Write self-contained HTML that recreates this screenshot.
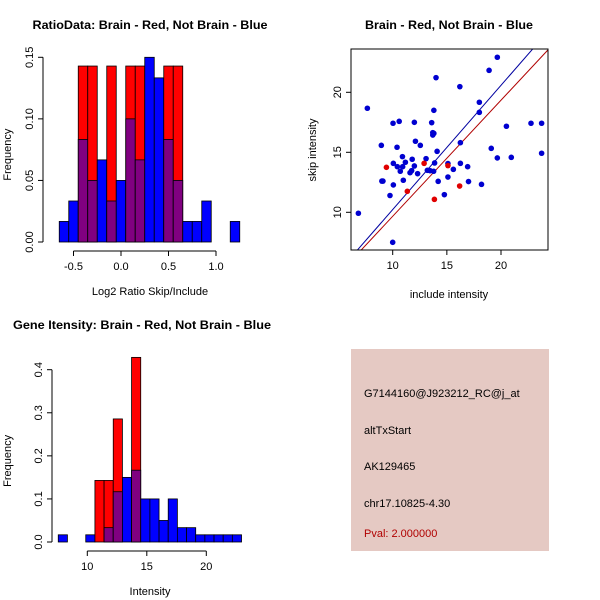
<!DOCTYPE html>
<html><head><meta charset="utf-8"><style>
html,body{margin:0;padding:0;background:#fff;}
svg{display:block;font-family:"Liberation Sans",sans-serif;}
</style></head><body>
<svg id="chart" width="600" height="600" viewBox="0 0 600 600" xmlns="http://www.w3.org/2000/svg">
<g id="p1"></g>
<g id="p2"></g>
<g id="p3"></g>
<g>
<rect x="351" y="349" width="198" height="202" fill="#e5c9c3"/>
<text x="364" y="397" font-size="11">G7144160@J923212_RC@j_at</text>
<text x="364" y="434" font-size="11">altTxStart</text>
<text x="364" y="470" font-size="11">AK129465</text>
<text x="364" y="507" font-size="11">chr17.10825-4.30</text>
<text x="364" y="537" font-size="11" fill="#b00000">Pval: 2.000000</text>
</g>
</svg>
<script>
// ---- Ratio histogram data ----
const ratioBinStart = -0.65;
const ratioBinWidth = 0.1;
const ratioBlue = [0.0167,0.0333,0.0833,0.05,0.0667,0.0333,0.05,0.1,0.0667,0.15,0.1333,0.0833,0.05,0.0167,0.0167,0.0333,0,0,0.0167];
const ratioRed  = [0,0,0.1429,0.1429,0,0.1429,0,0.1429,0.1429,0,0,0.1429,0.1429,0,0,0,0,0,0];
const ratioXTicks = [-0.5,0.0,0.5,1.0];
const ratioXTickLabels = ["-0.5","0.0","0.5","1.0"];
const ratioYTicks = [0,0.05,0.10,0.15];
const ratioYTickLabels = ["0.00","0.05","0.10","0.15"];
// ---- Intensity histogram data ----
const intBinStart = 7.56;
const intBinWidth = 0.77;
const intBlue = [0.0167,0,0,0.0167,0,0.0333,0.1167,0.15,0.1667,0.1,0.1,0.05,0.1,0.0333,0.0333,0.0167,0.0167,0.0167,0.0167,0.0167];
const intRed  = [0,0,0,0,0.1429,0.1429,0.2857,0,0.4286,0,0,0,0,0,0,0,0,0,0,0];
const intXTicks = [10,15,20];
const intXTickLabels = ["10","15","20"];
const intYTicks = [0,0.1,0.2,0.3,0.4];
const intYTickLabels = ["0.0","0.1","0.2","0.3","0.4"];
// ---- Scatter data ----
const blueInclude = [6.83,7.66,10,8.95,9.0,9.1,9.75,10.03,10.6,10.06,10.06,10.4,10.43,10.7,10.9,10.92,10.98,11.17,11.8,11.6,11.75,12.0,12.0,12.1,12.3,12.55,13.08,13.2,13.45,13.6,13.7,13.7,13.8,13.8,13.78,13.87,14.0,14.1,14.2,14.77,15.1,15.1,15.6,16.2,16.25,16.25,16.92,17.0,18.0,18.0,18.2,18.9,19.66,19.1,19.66,20.5,20.95,22.77,23.75,23.75];
const blueSkip    = [9.92,18.67,7.5,15.58,12.6,12.6,11.4,17.42,17.58,12.28,14.08,15.42,13.8,13.42,14.64,13.8,12.67,14.17,14.42,13.3,13.47,17.5,13.86,15.92,13.22,15.58,14.47,13.5,13.47,17.47,16.64,16.44,16.58,18.5,13.42,14.11,21.22,15.08,12.58,11.47,14.06,12.94,13.58,20.47,14.08,15.8,13.8,12.56,19.17,18.33,12.33,21.83,22.92,15.33,14.53,17.17,14.58,17.42,17.42,14.92];
const redInclude = [9.42,12.9,11.35,15.1,13.85,16.18];
const redSkip    = [13.75,14.08,11.75,13.89,11.08,12.19];
const fitBlue = [1.035,-0.12]; // slope, intercept
const fitRed  = [0.967,0.0];
const scXTicks = [10,15,20];
const scYTicks = [10,15,20];

const NS="http://www.w3.org/2000/svg";
function mk(parent,tag,attrs,text){
  const e=document.createElementNS(NS,tag);
  for(const k in attrs) e.setAttribute(k,attrs[k]);
  if(text!==undefined) e.textContent=text;
  parent.appendChild(e); return e;
}
function lin(d0,d1,r0,r1){return v=>r0+(v-d0)*(r1-r0)/(d1-d0);}

function hist(g,o){
  const sx=lin(o.xd[0],o.xd[1],o.xr[0],o.xr[1]);
  const sy=lin(0,o.ymax,o.y0,o.ytop);
  for(let i=0;i<o.blue.length;i++){
    const a=o.start+i*o.w, b=a+o.w;
    const x=sx(a), wd=sx(b)-sx(a);
    const bl=o.blue[i], rd=o.red[i];
    const hi=Math.max(bl,rd), lo=Math.min(bl,rd);
    if(hi>0){
      const r=mk(g,'rect',{x:x,y:sy(hi),width:wd,height:o.y0-sy(hi),fill:rd>bl?'#ff0000':'#0000ff',stroke:'#000','stroke-width':0.8});
      
      
    }
    if(lo>0){
      const r=mk(g,'rect',{x:x,y:sy(lo),width:wd,height:o.y0-sy(lo),fill:'#800080',stroke:'#000','stroke-width':0.8});
      
      
    }
  }
  // x axis
  const xa=mk(g,'g',{});
  
  
  const xt=o.xticks;
  mk(xa,'line',{x1:sx(xt[0]),x2:sx(xt[xt.length-1]),y1:o.xaxisY,y2:o.xaxisY,stroke:'#000'});
  xt.forEach((t,i)=>{
    mk(xa,'line',{x1:sx(t),x2:sx(t),y1:o.xaxisY,y2:o.xaxisY+5,stroke:'#000'});
    const l=mk(xa,'text',{x:sx(t),y:o.xaxisY+19,'font-size':11,'text-anchor':'middle'},o.xlabels[i]);
    
    
  });
  // y axis
  const ya=mk(g,'g',{});
  
  
  const yt=o.yticks;
  mk(ya,'line',{x1:o.yaxisX,x2:o.yaxisX,y1:sy(yt[0]),y2:sy(yt[yt.length-1]),stroke:'#000'});
  yt.forEach((t,i)=>{
    mk(ya,'line',{x1:o.yaxisX-5,x2:o.yaxisX,y1:sy(t),y2:sy(t),stroke:'#000'});
    const l=mk(ya,'text',{x:0,y:0,'font-size':11,'text-anchor':'middle',transform:`translate(${o.yaxisX-10},${sy(t)}) rotate(-90)`},o.ylabels[i]);
    
    
  });
  const t=mk(g,'text',{x:o.titleX,y:o.titleY,'font-size':12,'font-weight':'bold','text-anchor':'middle',textLength:o.titleLen,lengthAdjust:'spacingAndGlyphs'},o.title);
  
  
  const xl=mk(g,'text',{x:o.xlabX,y:o.xaxisY+44,'font-size':11,'text-anchor':'middle'},o.xlab);
  
  
  const yl=mk(g,'text',{x:0,y:0,'font-size':11,'text-anchor':'middle',transform:`translate(11,${(o.y0+o.ytop)/2+5}) rotate(-90)`},'Frequency');
  
  
}

hist(document.getElementById('p1'),{start:ratioBinStart,w:ratioBinWidth,blue:ratioBlue,red:ratioRed,
  xd:[-0.5,1.0],xr:[73.5,216],ymax:0.15,y0:242,ytop:57.3,xaxisY:251,yaxisX:43,
  xticks:ratioXTicks,xlabels:ratioXTickLabels,yticks:ratioYTicks,ylabels:ratioYTickLabels,
  title:'RatioData: Brain - Red, Not Brain - Blue',titleX:150,titleY:29,titleLen:235,xlab:'Log2 Ratio Skip/Include',xlabX:150});
hist(document.getElementById('p3'),{start:intBinStart,w:intBinWidth,blue:intBlue,red:intRed,
  xd:[10,20],xr:[87.3,206.3],ymax:0.4,y0:542,ytop:369.7,xaxisY:551,yaxisX:52,
  xticks:intXTicks,xlabels:intXTickLabels,yticks:intYTicks,ylabels:intYTickLabels,
  title:'Gene Itensity: Brain - Red, Not Brain - Blue',titleX:142,titleY:329,titleLen:258,xlab:'Intensity',xlabX:150});

// scatter
(function(){
  const g=document.getElementById('p2');
  const L=351,R=548,T=49,B=250;
  const sx=lin(10,20,392.7,501), sy=lin(10,20,212.3,92.3);
  const clip=mk(g,'clipPath',{id:'sc'}); mk(clip,'rect',{x:L,y:T,width:R-L,height:B-T});
  const x0=sx.length?0:0;
  const xmin=10+(L-392.7)/10.83, xmax=10+(R-392.7)/10.83;
  [[fitBlue,'#0000a0','blue-fit-line'],[fitRed,'#b00000','red-fit-line']].forEach(([f,c,n])=>{
    const l=mk(g,'line',{x1:sx(xmin),y1:sy(f[0]*xmin+f[1]),x2:sx(xmax),y2:sy(f[0]*xmax+f[1]),stroke:c,'stroke-width':1,'clip-path':'url(#sc)'});
    
    
  });
  blueInclude.forEach((v,i)=>{
    const c=mk(g,'circle',{cx:sx(v),cy:sy(blueSkip[i]),r:2.8,fill:'#0000d0'});
    
    
  });
  redInclude.forEach((v,i)=>{
    const c=mk(g,'circle',{cx:sx(v),cy:sy(redSkip[i]),r:2.8,fill:'#e00000'});
    
    
  });
  const box=mk(g,'rect',{x:L,y:T,width:R-L,height:B-T,fill:'none',stroke:'#000'});
  
  
  scXTicks.forEach(t=>{
    mk(g,'line',{x1:sx(t),x2:sx(t),y1:B,y2:B+5,stroke:'#000'});
    const l=mk(g,'text',{x:sx(t),y:B+19,'font-size':11,'text-anchor':'middle'},String(t));
    
    
  });
  scYTicks.forEach(t=>{
    mk(g,'line',{x1:L-5,x2:L,y1:sy(t),y2:sy(t),stroke:'#000'});
    const l=mk(g,'text',{x:0,y:0,'font-size':11,'text-anchor':'middle',transform:`translate(${L-10},${sy(t)}) rotate(-90)`},String(t));
    
    
  });
  const t=mk(g,'text',{x:449,y:29,'font-size':12,'font-weight':'bold','text-anchor':'middle',textLength:168,lengthAdjust:'spacingAndGlyphs'},'Brain - Red, Not Brain - Blue');
  
  
  const xl=mk(g,'text',{x:449,y:298,'font-size':11,'text-anchor':'middle'},'include intensity');
  
  
  const yl=mk(g,'text',{x:0,y:0,'font-size':11,'text-anchor':'middle',transform:`translate(316,150) rotate(-90)`},'skip intensity');
  
  
})();
</script>
</body></html>
